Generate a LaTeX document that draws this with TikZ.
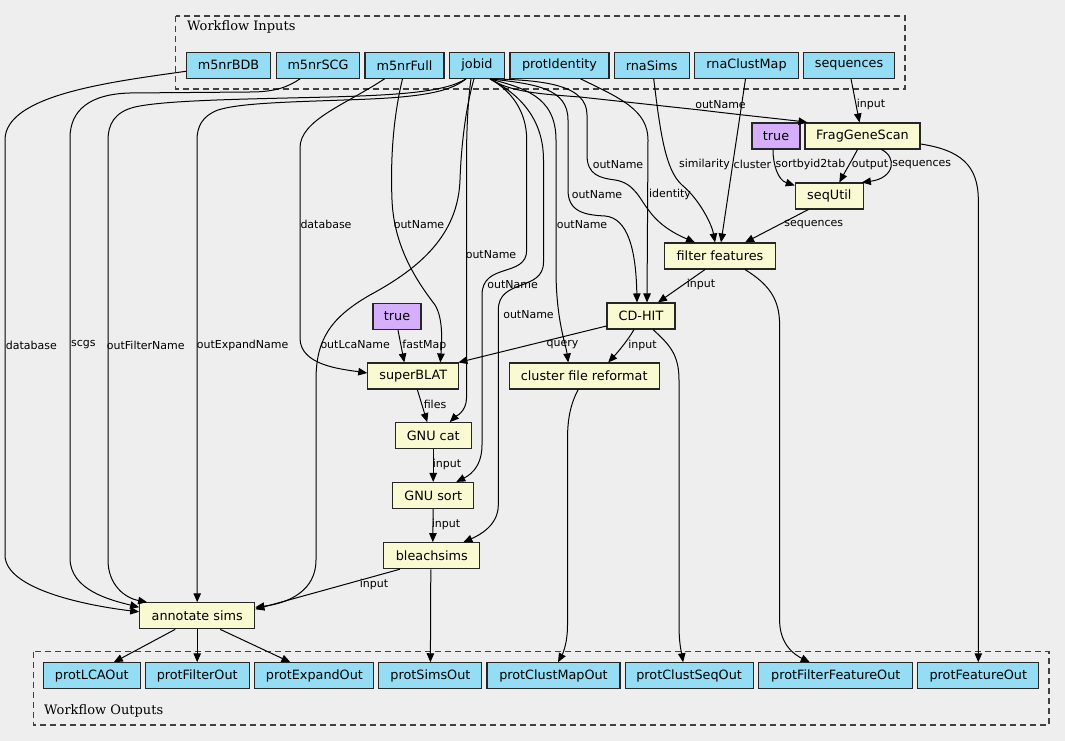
\documentclass[tikz,border=0pt]{standalone}
\usepackage{fontspec}
\setmainfont{DejaVu Sans}
\newfontfamily\clusfont{DejaVu Serif}
\usetikzlibrary{arrows.meta}
\definecolor{bgc}{RGB}{238,238,238}
\definecolor{ioc}{RGB}{148,221,244}
\definecolor{stc}{RGB}{250,250,210}
\definecolor{csc}{RGB}{213,174,252}
\begin{document}
\begin{tikzpicture}[x=1pt,y=-1pt,
  box/.style={draw=black!85, line width=1.1pt, minimum height=26pt, inner sep=0pt, font=\fontsize{12.8}{14}\selectfont},
  io/.style={box, fill=ioc},
  stepbox/.style={box, fill=stc},
  cst/.style={box, fill=csc},
  lbl/.style={font=\fontsize{11}{12}\selectfont, inner sep=0pt},
  edge/.style={draw=black, line width=1pt, -{Triangle[length=9pt,width=7.5pt]}},
  clus/.style={draw=black!75, line width=1.1pt, dash pattern=on 6pt off 4pt},
  clab/.style={font=\clusfont\fontsize{13}{15}\selectfont, anchor=west, inner sep=0pt}]
\fill[bgc] (0,0) rectangle (1065,741);
\useasboundingbox (0,0) rectangle (1065,741);
% clusters
\draw[clus] (175.6,16) rectangle (905,89);
\draw[clus] (33.4,651.7) rectangle (1049,725);
\node[clab] (tin) at (187,27.3) {Workflow Inputs};
\node[clab] (tout) at (44,711) {Workflow Outputs};
% inputs
\node[io,minimum width=84pt] (m5nrBDB) at (228.5,65.3) {m5nrBDB};
\node[io,minimum width=83pt] (m5nrSCG) at (318,65.3) {m5nrSCG};
\node[io,minimum width=79pt] (m5nrFull) at (404.5,65.3) {m5nrFull};
\node[io,minimum width=55pt] (jobid) at (477,65.3) {jobid};
\node[io,minimum width=99pt] (protIdentity) at (559.5,65.3) {protIdentity};
\node[io,minimum width=75pt] (rnaSims) at (651.7,65.3) {rnaSims};
\node[io,minimum width=104pt] (rnaClustMap) at (746.5,65.3) {rnaClustMap};
\node[io,minimum width=91pt] (sequences) at (849,65.3) {sequences};
% steps
\node[cst,minimum width=48pt] (trueA) at (776,136) {true};
\node[stepbox,minimum width=115pt] (fgs) at (862.5,136) {FragGeneScan};
\node[stepbox,minimum width=68pt] (sequtil) at (829.3,196) {seqUtil};
\node[stepbox,minimum width=111pt] (ff) at (720,256) {filter features};
\node[cst,minimum width=48pt] (trueB) at (397,316.5) {true};
\node[stepbox,minimum width=68pt] (cdhit) at (641,316) {CD-HIT};
\node[stepbox,minimum width=91pt] (sblat) at (413.3,376) {superBLAT};
\node[stepbox,minimum width=150pt] (cfr) at (584.2,376) {cluster file reformat};
\node[stepbox,minimum width=76pt] (gcat) at (433.2,435.7) {GNU cat};
\node[stepbox,minimum width=81pt] (gsort) at (433.2,495.5) {GNU sort};
\node[stepbox,minimum width=96pt] (bleach) at (431.8,555.7) {bleachsims};
\node[stepbox,minimum width=115pt] (annot) at (197.2,615.8) {annotate sims};
% outputs
\node[io,minimum width=97pt] (protLCAOut) at (91.8,675.8) {protLCAOut};
\node[io,minimum width=104pt] (protFilterOut) at (197.2,675.8) {protFilterOut};
\node[io,minimum width=119pt] (protExpandOut) at (314.4,675.8) {protExpandOut};
\node[io,minimum width=103pt] (protSimsOut) at (430.4,675.8) {protSimsOut};
\node[io,minimum width=133pt] (protClustMapOut) at (553.5,675.8) {protClustMapOut};
\node[io,minimum width=128pt] (protClustSeqOut) at (689.1,675.8) {protClustSeqOut};
\node[io,minimum width=154pt] (protFilterFeatureOut) at (835.8,675.8) {protFilterFeatureOut};
\node[io,minimum width=121pt] (protFeatureOut) at (978.3,675.8) {protFeatureOut};
% edges into annotate sims
\draw[edge] ([yshift=-6pt]m5nrBDB.west) .. controls (110,82) and (5,95) .. (5,140) -- (5,555) .. controls (5,590) and (90,606) .. ([yshift=4pt]annot.west);
\draw[edge] ([xshift=-18pt]m5nrSCG.south) .. controls (288,87) and (275,92) .. (250,92) -- (130,93) .. controls (90,94) and (70,110) .. (70,138) -- (70,558) .. controls (70,590) and (110,600) .. ([yshift=-5pt]annot.north west);
\draw[edge] ([xshift=-11pt]jobid.south) .. controls (445,92) and (400,95) .. (330,97) .. controls (250,99) and (165,100) .. (135,107) .. controls (114,112) and (108,125) .. (108,140) -- (108,560) .. controls (108,585) and (125,598) .. ([xshift=8pt]annot.north west);
\draw[edge] ([xshift=-11pt]jobid.south) .. controls (448,94) and (410,98) .. (344,100) .. controls (290,102) and (240,103) .. (218,110) .. controls (202,116) and (197,127) .. (197,140) -- (annot.north);
\draw[edge] ([xshift=-3pt]jobid.south) .. controls (465,110) and (461,150) .. (460,180) .. controls (458,235) and (420,268) .. (370,295) .. controls (330,318) and (316,340) .. (316,380) -- (316,560) .. controls (316,590) and (290,603) .. ([yshift=-5pt]annot.north east);
\draw[edge] ([xshift=-32pt]bleach.south) -- ([yshift=-7pt]annot.north east);
% superBLAT
\draw[edge] ([xshift=-20pt]m5nrFull.south) .. controls (345,105) and (300,120) .. (300,148) -- (300,338) .. controls (300,365) and (340,369) .. ([yshift=3pt]sblat.west);
\draw[edge] ([xshift=-2pt]m5nrFull.south) .. controls (395,110) and (390,150) .. (392,200) .. controls (394,250) and (420,285) .. (435,305) .. controls (443,318) and (442,340) .. ([xshift=27pt]sblat.north);
\draw[edge] ([xshift=1pt]trueB.south) -- ([xshift=-9pt]sblat.north);
\draw[edge] ([yshift=-10pt]cdhit.west) -- ([xshift=-1pt]sblat.north east);
% chain
\draw[edge] ([xshift=-6pt]jobid.south) .. controls (468,100) and (466.5,130) .. (466.5,160) -- (466.5,398) .. controls (466.5,412) and (455,417) .. ([xshift=-22pt]gcat.north east);
\draw[edge] ([xshift=4pt]sblat.south) -- ([xshift=-6pt]gcat.north);
\draw[edge] ([xshift=13pt]jobid.south) .. controls (510,90) and (526.7,110) .. (526.7,140) -- (526.7,250) .. controls (526.7,278) and (482,262) .. (482,295) -- (482,445) .. controls (482,470) and (466,477) .. ([xshift=-18pt]gsort.north east);
\draw[edge] (gcat.south) -- (gsort.north);
\draw[edge] ([xshift=13pt]jobid.south) .. controls (515,92) and (543.5,115) .. (543.5,160) -- (543.5,262) .. controls (543.5,292) and (498.3,278) .. (498.3,310) -- (498.3,505) .. controls (498.3,525) and (480,535) .. ([xshift=-17pt]bleach.north east);
\draw[edge] (gsort.south) -- ([xshift=1pt]bleach.north);
\draw[edge] ([xshift=-1pt]bleach.south) -- (protSimsOut.north);
\draw[edge] ([xshift=-22pt]annot.south) -- ([xshift=22pt]protLCAOut.north);
\draw[edge] (annot.south) -- (protFilterOut.north);
\draw[edge] ([xshift=23pt]annot.south) -- ([xshift=-24pt]protExpandOut.north);
% jobid to right side
\draw[edge] ([xshift=13pt]jobid.south) .. controls (522,88) and (556,95) .. (556,140) -- (556,270) .. controls (556,320) and (566,345) .. ([xshift=-16pt]cfr.north);
\draw[edge] ([xshift=13pt]jobid.south) .. controls (535,84) and (568,88) .. (568,120) -- (568,190) .. controls (568,212) and (585,215) .. (605,216) .. controls (628,218) and (636,250) .. ([xshift=-4pt]cdhit.north);
\draw[edge] ([xshift=13pt]jobid.south) .. controls (545,80) and (587,85) .. (587,115) -- (587,155) .. controls (587,175) and (600,178) .. (615,180) .. controls (635,183) and (640,200) .. (650,212) .. controls (662,228) and (680,236) .. ([xshift=-25pt]ff.north);
\draw[edge] ([xshift=13pt]jobid.south) .. controls (510,92) and (540,94) .. (580,97) -- (700,110) .. controls (750,116) and (790,120) .. ([xshift=3pt]fgs.north west);
% other inputs
\draw[edge] ([xshift=21pt]protIdentity.south) .. controls (620,98) and (648,110) .. (648,140) -- ([xshift=6pt]cdhit.north);
\draw[edge] ([xshift=2pt]rnaSims.south) .. controls (660,130) and (665,170) .. (682,185) .. controls (700,200) and (712,225) .. ([xshift=-5pt]ff.north);
\draw[edge] ([xshift=-1pt]rnaClustMap.south) -- ([xshift=1pt]ff.north);
\draw[edge] ([xshift=2pt]sequences.south) -- ([xshift=-3pt]fgs.north);
% right side steps
\draw[edge] ([xshift=-3pt]trueA.south) .. controls (773,165) and (778,180) .. ([yshift=-3pt]sequtil.north west);
\draw[edge] ([xshift=-5pt]fgs.south) .. controls (852,160) and (845,172) .. ([xshift=10pt]sequtil.north);
\draw[edge] ([xshift=19pt]fgs.south) .. controls (897,157) and (895,178) .. ([xshift=-2pt]sequtil.north east);
\draw[edge] ([yshift=-8pt]fgs.east) .. controls (960,150) and (978.3,165) .. (978.3,200) -- (protFeatureOut.north);
\draw[edge] ([xshift=-21pt]sequtil.south) -- ([xshift=25pt]ff.north);
\draw[edge] ([xshift=-15pt]ff.south) -- ([xshift=17pt]cdhit.north);
\draw[edge] ([xshift=25pt]ff.south) .. controls (770,285) and (779.6,300) .. (779.6,325) -- (779.6,620) .. controls (779.6,645) and (795,655) .. ([xshift=-26pt]protFilterFeatureOut.north);
\draw[edge] ([xshift=-7pt]cdhit.south) .. controls (628,340) and (618,352) .. ([xshift=24pt]cfr.north);
\draw[edge] ([xshift=12pt]cdhit.south) .. controls (670,345) and (679,355) .. (679,380) -- (679,625) .. controls (679,645) and (682,655) .. ([xshift=-6pt]protClustSeqOut.north);
\draw[edge] ([xshift=-6pt]cfr.south) .. controls (570,405) and (567.5,420) .. (567.5,440) -- (567.5,625) .. controls (567.5,645) and (562,655) .. ([xshift=4.5pt]protClustMapOut.north);
% labels
\node[lbl] (L1) at (720.5,104.7) {outName};
\node[lbl] (L2) at (871,104.7) {input};
\node[lbl] (L3) at (618,164.7) {outName};
\node[lbl] (L4) at (704.5,164.7) {similarity};
\node[lbl] (L5) at (752.4,164.7) {cluster};
\node[lbl] (L6) at (810.5,164.7) {sortbyid2tab};
\node[lbl] (L7) at (870,164.7) {output};
\node[lbl] (L8) at (921.8,164.7) {sequences};
\node[lbl] (L9) at (597,194.7) {outName};
\node[lbl] (L10) at (670,194.7) {identity};
\node[lbl] (L11) at (582,224.7) {outName};
\node[lbl] (L12) at (813.7,224.7) {sequences};
\node[lbl] (L13) at (326,224.7) {database};
\node[lbl] (L14) at (419,224.7) {outName};
\node[lbl] (L15) at (491,254.7) {outName};
\node[lbl] (L16) at (512.7,284.7) {outName};
\node[lbl] (L17) at (528.5,314.7) {outName};
\node[lbl] (L18) at (701,284.7) {input};
\node[lbl] (L19) at (31.4,345) {database};
\node[lbl] (L20) at (83.3,345) {scgs};
\node[lbl] (L21) at (145.8,345) {outFilterName};
\node[lbl] (L22) at (242.6,345) {outExpandName};
\node[lbl] (L23) at (355.2,345) {outLcaName};
\node[lbl] (L24) at (424.4,345) {fastMap};
\node[lbl] (L25) at (562.6,345) {query};
\node[lbl] (L26) at (642.5,345) {input};
\node[lbl] (L27) at (435,404.3) {files};
\node[lbl] (L28) at (447,464.7) {input};
\node[lbl] (L29) at (446,524.3) {input};
\node[lbl] (L30) at (374,584.7) {input};
\end{tikzpicture}
\end{document}
